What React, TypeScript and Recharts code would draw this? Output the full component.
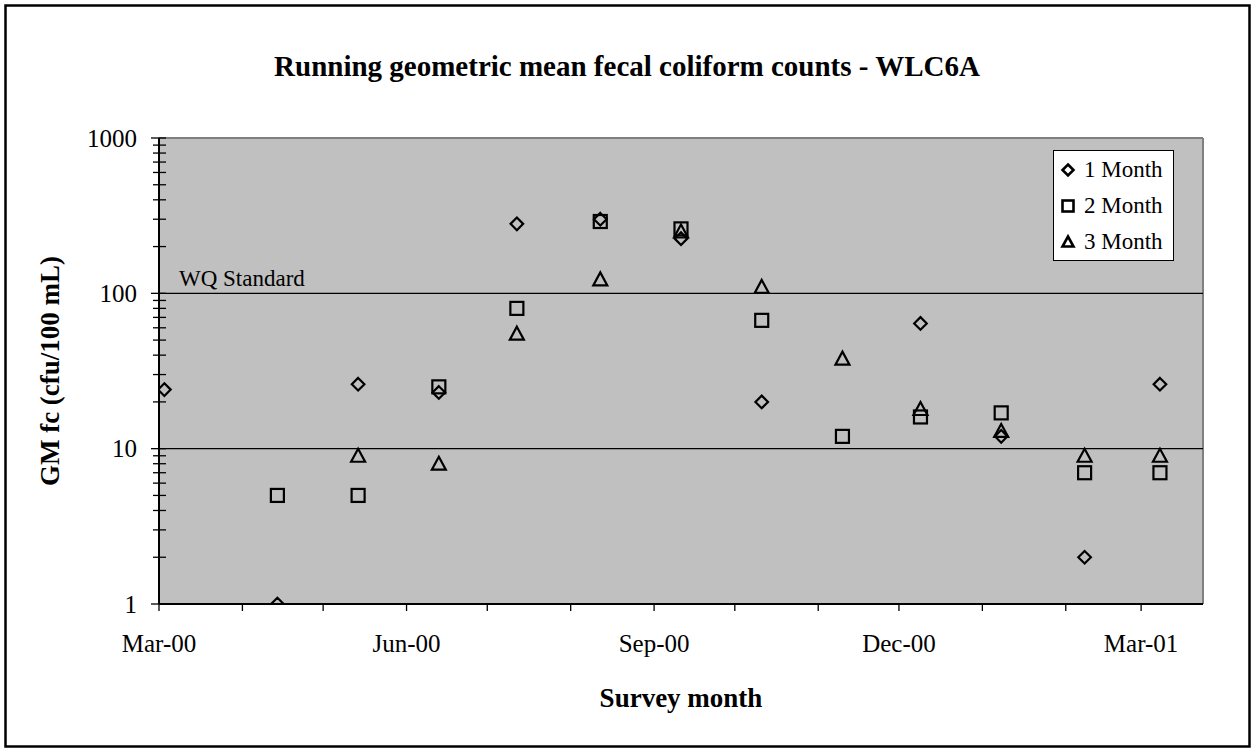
import React from "react";
import { ScatterChart, Scatter, XAxis, YAxis, ReferenceLine, CartesianGrid, Legend } from "recharts";

// survey dates (one per month) and running geometric means
const sampleDates = [
  "2000-03-03", "2000-04-14", "2000-05-14", "2000-06-13", "2000-07-12", "2000-08-12", "2000-09-11",
  "2000-10-11", "2000-11-10", "2000-12-09", "2001-01-08", "2001-02-08", "2001-03-08",
];
const oneMonth = [24, 1, 26, 23, 280, 300, 225, 20, null, 64, 12, 2, 26];
const twoMonth = [null, 5, 5, 25, 80, 290, 260, 67, 12, 16, 17, 7, 7];
const threeMonth = [null, null, 9, 8, 55, 123, 250, 110, 38, 18, 13, 9, 9];

const monthTicks = [
  "2000-03-01", "2000-04-01", "2000-05-01", "2000-06-01", "2000-07-01", "2000-08-01", "2000-09-01",
  "2000-10-01", "2000-11-01", "2000-12-01", "2001-01-01", "2001-02-01", "2001-03-01",
];
const monthLabels = ["Mar-00", "", "", "Jun-00", "", "", "Sep-00", "", "", "Dec-00", "", "", "Mar-01"];
const axisStart = "2000-03-01";
const axisEnd = "2001-03-24";

const yTicks = [
  1, 2, 3, 4, 5, 6, 7, 8, 9, 10, 20, 30, 40, 50, 60, 70, 80, 90, 100, 200, 300, 400, 500, 600, 700, 800,
  900, 1000,
];
const wqStandard = 100;

const FONT = "'Liberation Serif', 'Times New Roman', serif";
const DAY = 86400000;
const toDay = (s: string) => (Date.parse(s) - Date.parse(axisStart)) / DAY;

const toSeries = (vals: (number | null)[]) =>
  sampleDates
    .map((d, i) => ({ day: toDay(d), value: vals[i] }))
    .filter((p) => p.value != null);

const tickDays = monthTicks.map(toDay);

type MarkProps = { cx?: number; cy?: number; r?: number; sw?: number };

function Diamond({ cx = 0, cy = 0, r = 6.3, sw = 2.2 }: MarkProps) {
  return (
    <path
      d={`M${cx},${cy - r}L${cx + r},${cy}L${cx},${cy + r}L${cx - r},${cy}Z`}
      fill="none"
      stroke="#000"
      strokeWidth={sw}
    />
  );
}

function Square({ cx = 0, cy = 0, r = 6.5, sw = 2.2 }: MarkProps) {
  return (
    <rect
      x={cx - r}
      y={cy - r}
      width={r * 2}
      height={r * 2}
      fill="none"
      stroke="#000"
      strokeWidth={sw}
    />
  );
}

function Triangle({ cx = 0, cy = 0, r = 7, sw = 2.2 }: MarkProps) {
  return (
    <path
      d={`M${cx},${cy - r}L${cx + r},${cy + r - 1}L${cx - r},${cy + r - 1}Z`}
      fill="none"
      stroke="#000"
      strokeWidth={sw}
      strokeLinejoin="miter"
    />
  );
}

const markers: Record<string, (p: MarkProps) => React.ReactElement> = {
  "1 Month": Diamond,
  "2 Month": Square,
  "3 Month": Triangle,
};

function XTick(props: any) {
  const { x, y, index } = props;
  const label = monthLabels[index] ?? "";
  return (
    <g>
      <line x1={x} x2={x} y1={y} y2={y + 7} stroke="#000" strokeWidth={1.3} />
      {label && (
        <text x={x} y={y + 48} textAnchor="middle" fontFamily={FONT} fontSize={25} fill="#000">
          {label}
        </text>
      )}
    </g>
  );
}

function YTick(props: any) {
  const { x, y, payload } = props;
  const v = payload.value as number;
  const lg = Math.log10(v);
  const major = Math.abs(lg - Math.round(lg)) < 1e-9;
  return (
    <g>
      <line x1={x - (major ? 8 : 6)} x2={x + 7} y1={y} y2={y} stroke="#000" strokeWidth={1.3} />
      {major && (
        <text x={x - 22} y={y} textAnchor="end" dominantBaseline="central" fontFamily={FONT} fontSize={25} fill="#000">
          {v}
        </text>
      )}
    </g>
  );
}

function LegendBox({ payload }: any) {
  return (
    <div
      style={{
        width: 121,
        height: 111,
        boxSizing: "border-box",
        border: "1px solid #000",
        background: "#fff",
        paddingTop: 1,
      }}
    >
      {(payload ?? []).map((entry: any) => {
        const Mark = markers[entry.value] ?? Diamond;
        return (
          <div key={entry.value} style={{ display: "flex", alignItems: "center", height: 36 }}>
            <svg width={28} height={36}>
              <Mark cx={14} cy={18} r={5.5} sw={2.6} />
            </svg>
            <span style={{ fontFamily: FONT, fontSize: 23, lineHeight: "36px", color: "#000", marginLeft: 2 }}>
              {entry.value}
            </span>
          </div>
        );
      })}
    </div>
  );
}

function WqLabel(props: any) {
  const { viewBox } = props;
  return (
    <text x={viewBox.x + 20} y={viewBox.y - 7} fontFamily={FONT} fontSize={23} fill="#000">
      WQ Standard
    </text>
  );
}

export default function App() {
  const s1 = toSeries(oneMonth);
  const s2 = toSeries(twoMonth);
  const s3 = toSeries(threeMonth);
  const xMax = toDay(axisEnd);

  return (
    <div style={{ position: "absolute", left: 0, top: 0, width: 1254, height: 752, background: "#fff" }}>
      <svg width={1254} height={752} style={{ position: "absolute", left: 0, top: 0 }}>
        <rect x={5.5} y={5.5} width={1244} height={741} fill="#fff" stroke="#000" strokeWidth={2.5} />
        <text x={627} y={76} textAnchor="middle" fontFamily={FONT} fontWeight="bold" fontSize={29} fill="#000">
          Running geometric mean fecal coliform counts - WLC6A
        </text>
        <text
          x={0}
          y={0}
          transform="translate(50 371) rotate(-90)"
          textAnchor="middle"
          dominantBaseline="central"
          fontFamily={FONT}
          fontWeight="bold"
          fontSize={27}
          fill="#000"
        >
          GM fc (cfu/100 mL)
        </text>
        <text x={681} y={707} textAnchor="middle" fontFamily={FONT} fontWeight="bold" fontSize={27} fill="#000">
          Survey month
        </text>
      </svg>
      <div style={{ position: "absolute", left: 0, top: 0 }}>
        <ScatterChart width={1254} height={752} margin={{ top: 138, right: 51, bottom: 88, left: 99 }}>
          <CartesianGrid horizontal={false} vertical={false} fill="#C0C0C0" fillOpacity={1} />
          <XAxis
            type="number"
            dataKey="day"
            domain={[0, xMax]}
            ticks={tickDays}
            interval={0}
            allowDataOverflow
            height={60}
            tickSize={0}
            tickMargin={0}
            tickLine={false}
            tick={XTick}
            axisLine={{ stroke: "#000", strokeWidth: 2 }}
          />
          <YAxis
            type="number"
            dataKey="value"
            scale="log"
            domain={[1, 1000]}
            ticks={yTicks}
            interval={0}
            allowDataOverflow
            width={60}
            tickSize={0}
            tickMargin={0}
            tickLine={false}
            tick={YTick}
            axisLine={{ stroke: "#000", strokeWidth: 2 }}
          />
          <ReferenceLine y={1000} stroke="#808080" strokeWidth={2} />
          <ReferenceLine x={xMax} stroke="#808080" strokeWidth={2} />
          <ReferenceLine y={10} stroke="#000" strokeWidth={1.2} />
          <ReferenceLine y={wqStandard} stroke="#000" strokeWidth={1.2} label={<WqLabel />} />
          <Scatter
            name="1 Month"
            data={s1}
            isAnimationActive={false}
            shape={(p: any) => <Diamond cx={p.cx} cy={p.cy} />}
          />
          <Scatter
            name="2 Month"
            data={s2}
            isAnimationActive={false}
            shape={(p: any) => <Square cx={p.cx} cy={p.cy} />}
          />
          <Scatter
            name="3 Month"
            data={s3}
            isAnimationActive={false}
            shape={(p: any) => <Triangle cx={p.cx} cy={p.cy} />}
          />
          <Legend
            layout="vertical"
            align="center"
            verticalAlign="middle"
            wrapperStyle={{ position: "absolute", left: 1053, top: 150, width: 121, height: 111 }}
            content={LegendBox}
          />
        </ScatterChart>
      </div>
    </div>
  );
}
